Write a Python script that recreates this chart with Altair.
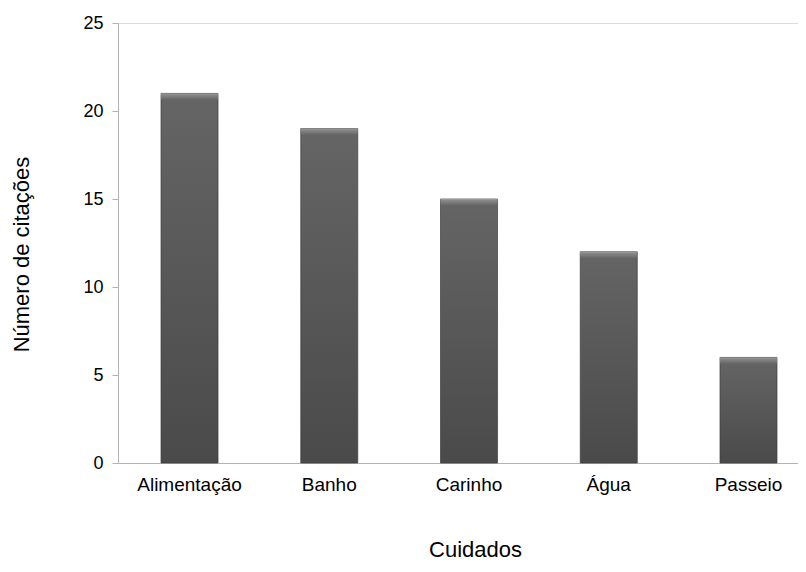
import altair as alt
import pandas as pd

cuidados = ["Alimentação", "Banho", "Carinho", "Água", "Passeio"]
citacoes = [21, 19, 15, 12, 6]
y_ticks = [0, 5, 10, 15, 20, 25]

df = pd.DataFrame({"Cuidados": cuidados, "Citações": citacoes})

FONT = "Liberation Sans"

x_enc = alt.X(
    "Cuidados:N",
    sort=cuidados,
    scale=alt.Scale(paddingInner=0.592, paddingOuter=0.229, align=0.672),
    axis=alt.Axis(
        title="Cuidados",
        labelAngle=0,
        ticks=False,
        labelFontSize=19,
        labelPadding=12,
        labelColor="#000000",
        labelFont=FONT,
        domainColor="#b3b3b3",
        titleFontSize=22,
        titleFontWeight="normal",
        titleFont=FONT,
        titleColor="#000000",
        titleX=357,
        titleY=86,
        titleBaseline="middle",
    ),
)

y_scale = alt.Scale(domain=[0, 25], nice=False)

base = alt.Chart(df)

bars = base.mark_bar(
    color=alt.Gradient(
        gradient="linear",
        x1=0, x2=0, y1=0, y2=1,
        stops=[
            alt.GradientStop(offset=0, color="#656565"),
            alt.GradientStop(offset=1, color="#4a4a4a"),
        ],
    ),
    stroke="#3c3c3c",
    strokeWidth=0.7,
).encode(
    x=x_enc,
    y=alt.Y(
        "Citações:Q",
        scale=y_scale,
        axis=alt.Axis(
            title="Número de citações",
            values=y_ticks,
            grid=False,
            tickSize=6,
            tickColor="#b3b3b3",
            domainColor="#b3b3b3",
            labelFontSize=18,
            labelPadding=9,
            labelColor="#000000",
            labelFont=FONT,
            titleFontSize=22,
            titleFontWeight="normal",
            titleFont=FONT,
            titleColor="#000000",
            titleX=-97,
            titleY=231,
            titleBaseline="middle",
        ),
    ),
)

bevel = base.transform_calculate(
    topo="datum['Citações'] - 0.36"
).mark_bar(
    color=alt.Gradient(
        gradient="linear",
        x1=0, x2=0, y1=0, y2=1,
        stops=[
            alt.GradientStop(offset=0, color="#a0a0a0"),
            alt.GradientStop(offset=0.2, color="#8a8a8a"),
            alt.GradientStop(offset=1, color="#666666"),
        ],
    ),
).encode(
    x=alt.X("Cuidados:N", sort=cuidados),
    y=alt.Y("Citações:Q", scale=y_scale),
    y2="topo:Q",
)

chart = alt.layer(bars, bevel).properties(
    width=680,
    height=440,
    autosize=alt.AutoSizeParams(type="none"),
    padding={"left": 110, "top": 15, "right": 0, "bottom": 101},
).configure_view(stroke=None).configure(background="#ffffff")

chart.save("out.html", embed_options={"renderer": "svg", "actions": False})
